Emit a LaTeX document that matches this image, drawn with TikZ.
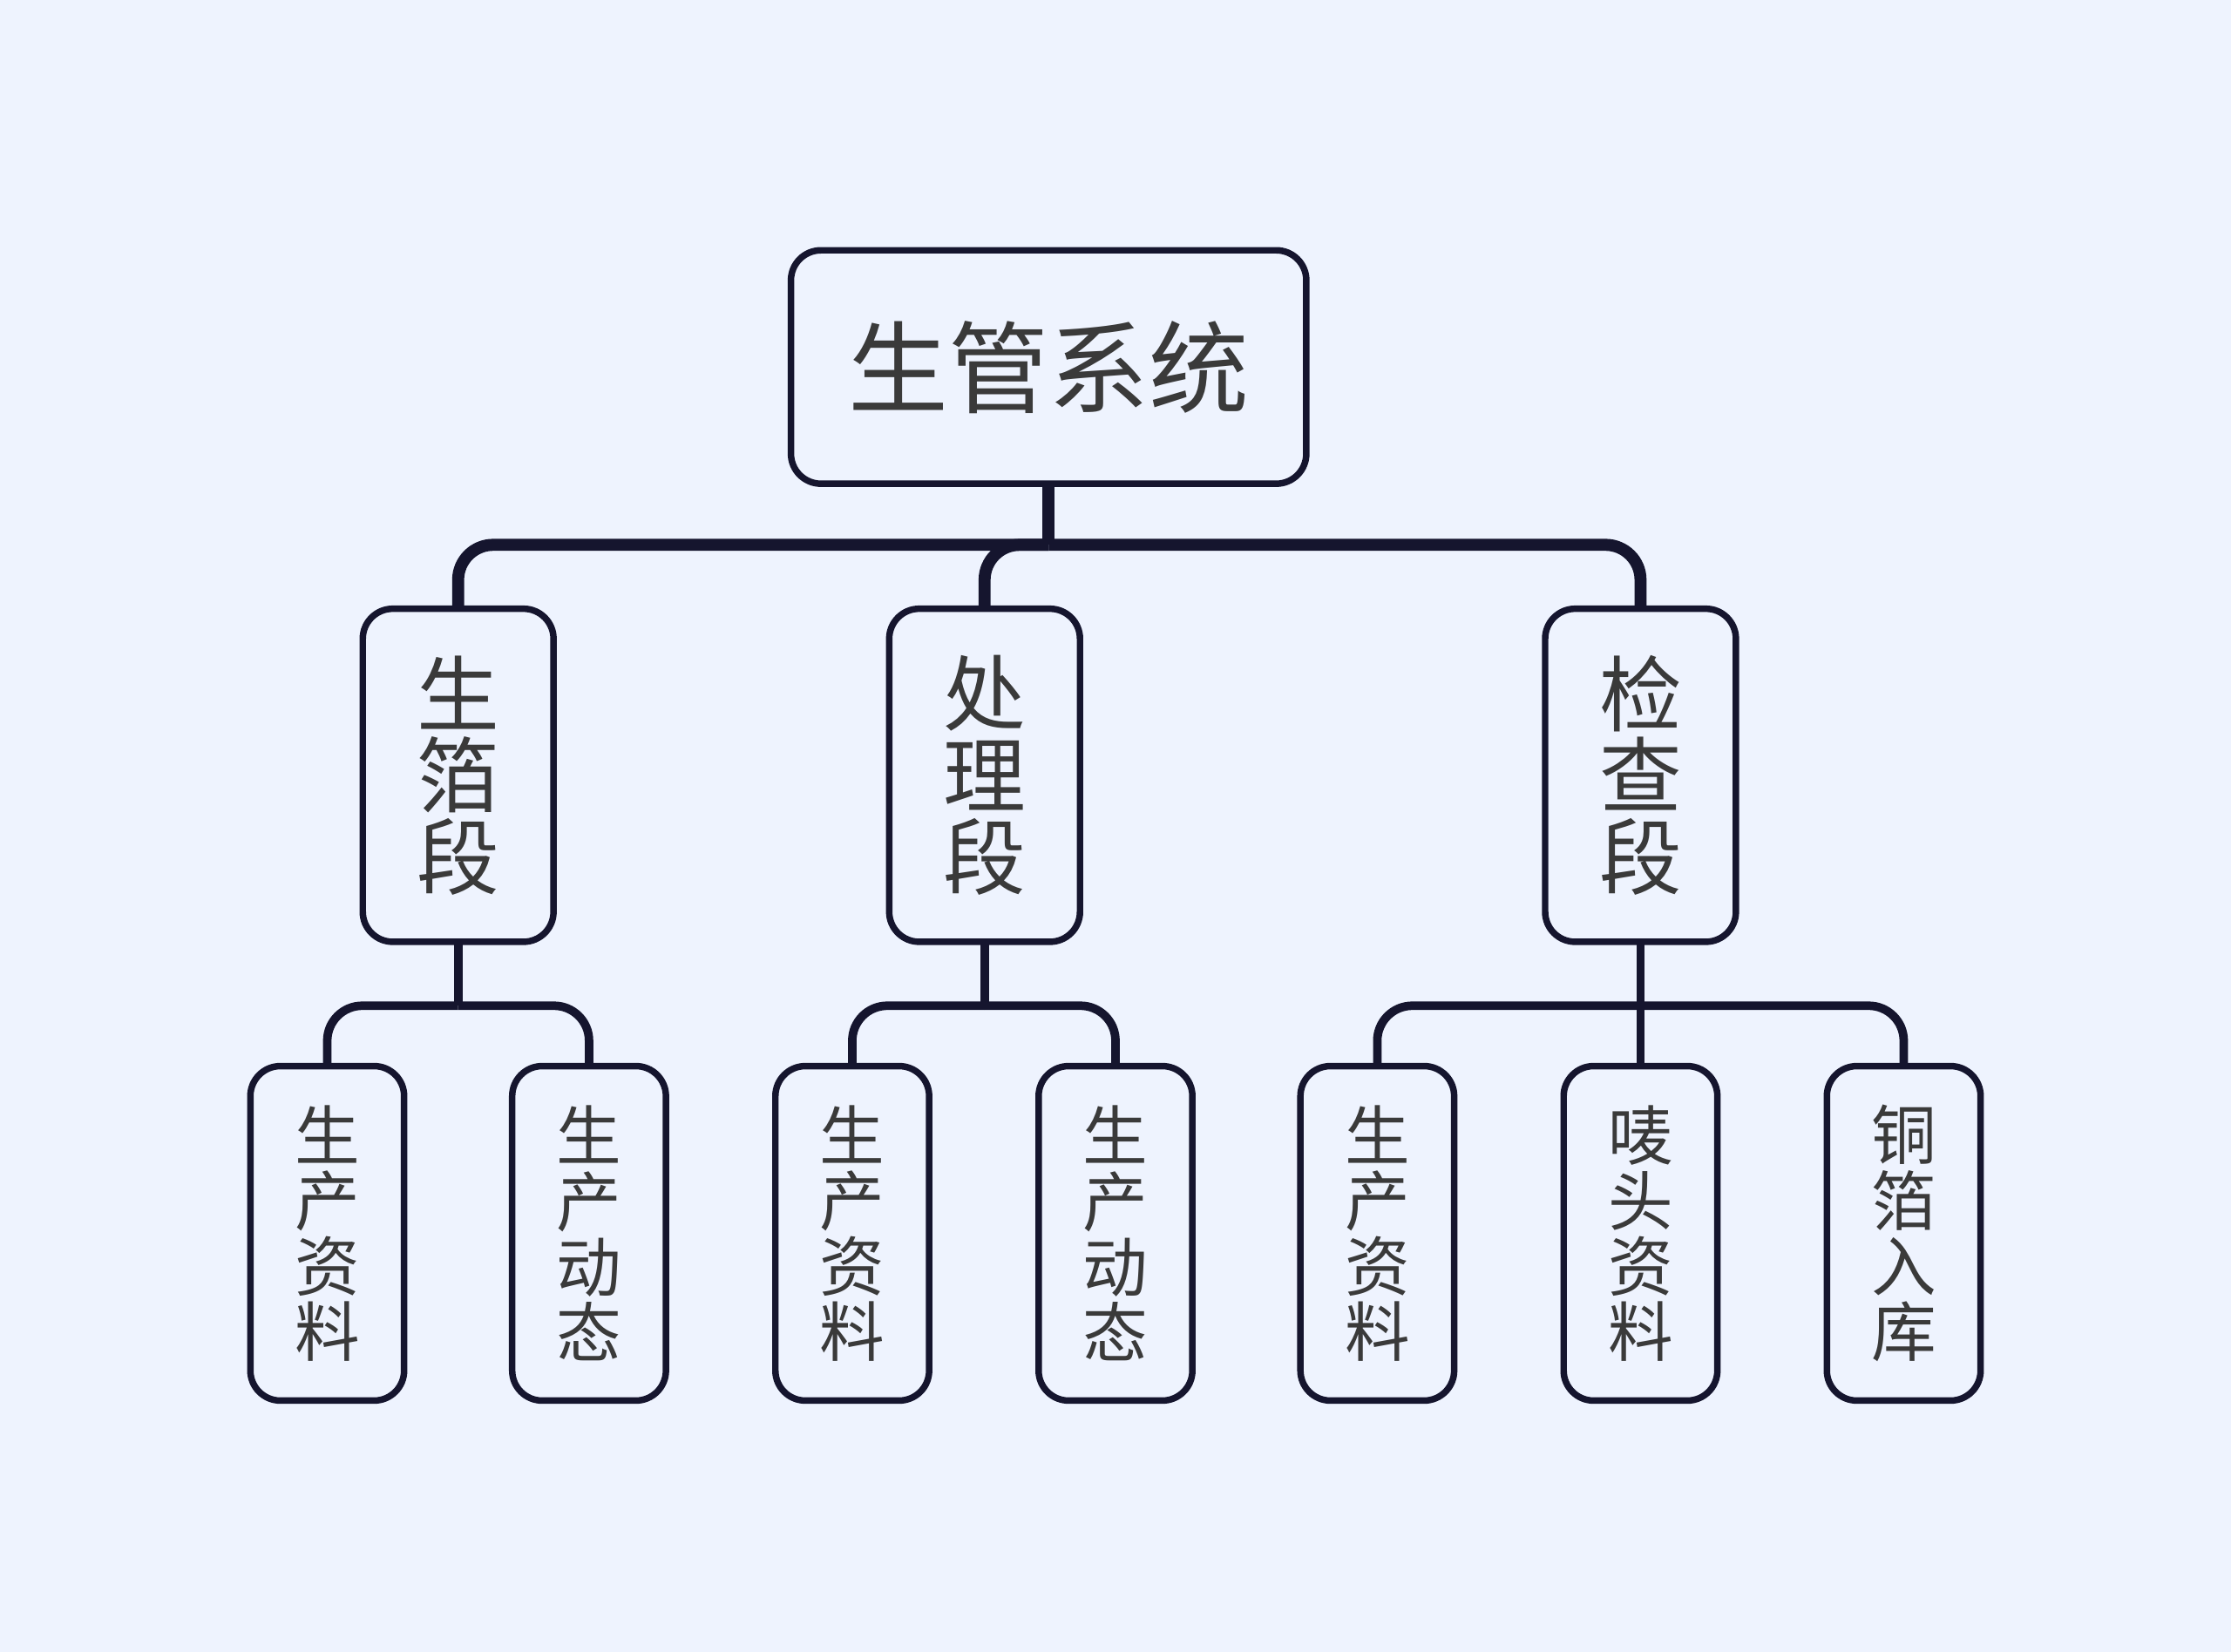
\documentclass[tikz,border=0pt]{standalone}
\usepackage{fontspec}
\setmainfont{Noto Sans CJK SC}
\usepackage{tikz}
\definecolor{bg}{HTML}{EEF3FE}
\definecolor{ink}{HTML}{15152E}
\definecolor{txt}{HTML}{3A3A3A}
\tikzset{
	topbox/.style={draw=ink,line width=1.3pt,fill=bg,rounded corners=6pt,minimum width=3.62cm,minimum height=1.64cm,text=txt,font=\fontsize{20}{20}\selectfont},
	midbox/.style={draw=ink,line width=1.3pt,fill=bg,rounded corners=6pt,minimum width=1.34cm,minimum height=2.34cm,text=txt,align=center,font=\fontsize{16.5}{16.3}\selectfont},
	leafbox/.style={draw=ink,line width=1.3pt,fill=bg,rounded corners=6pt,minimum width=1.08cm,minimum height=2.35cm,text=txt,align=center,font=\fontsize{13}{13.1}\selectfont},
	bigline/.style={draw=ink,line width=2.4pt,rounded corners=7pt},
	smallline/.style={draw=ink,line width=1.7pt,rounded corners=7pt}
}
\begin{document}
\begin{tikzpicture}[x=0.01cm,y=-0.01cm]
	\fill[bg] (0,0) rectangle (1568,1161);
	\useasboundingbox (0,0) rectangle (1568,1161);

	% stems and bus lines
	\coordinate (rb) at (737,383);
	\coordinate (fj) at (322,707);
	\coordinate (tj) at (692,707);
	\coordinate (cj) at (1153,707);
	\draw[bigline] (737,340) -- (rb);
	\draw[bigline] (rb) -| (322,428);
	\draw[bigline] (rb) -| (692,428);
	\draw[bigline] (rb) -| (1153,428);
	\draw[smallline] (322,662) -- (fj);
	\draw[smallline] (fj) -| (230,750);
	\draw[smallline] (fj) -| (414,750);
	\draw[smallline] (692,662) -- (tj);
	\draw[smallline] (tj) -| (599,750);
	\draw[smallline] (tj) -| (784,750);
	\draw[smallline] (1153,662) -- (1153,750);
	\draw[smallline] (cj) -| (968,750);
	\draw[smallline] (cj) -| (1338,750);

	\node[topbox] (root) at (737,258) {生管系统};

	\node[midbox] (foil) at (322,545) {生\\箔\\段};
	\node[midbox] (treat) at (692,545) {处\\理\\段};
	\node[midbox] (check) at (1153,545) {检\\查\\段};

	\node[leafbox] (fa) at (230,867) {生\\产\\资\\料};
	\node[leafbox] (fb) at (414,867) {生\\产\\动\\态};
	\node[leafbox] (ta) at (599,867) {生\\产\\资\\料};
	\node[leafbox] (tb) at (784,867) {生\\产\\动\\态};
	\node[leafbox] (ca) at (968,867) {生\\产\\资\\料};
	\node[leafbox] (cb) at (1153,867) {唛\\头\\资\\料};
	\node[leafbox] (cc) at (1338,867) {铜\\箔\\入\\库};
\end{tikzpicture}
\end{document}
